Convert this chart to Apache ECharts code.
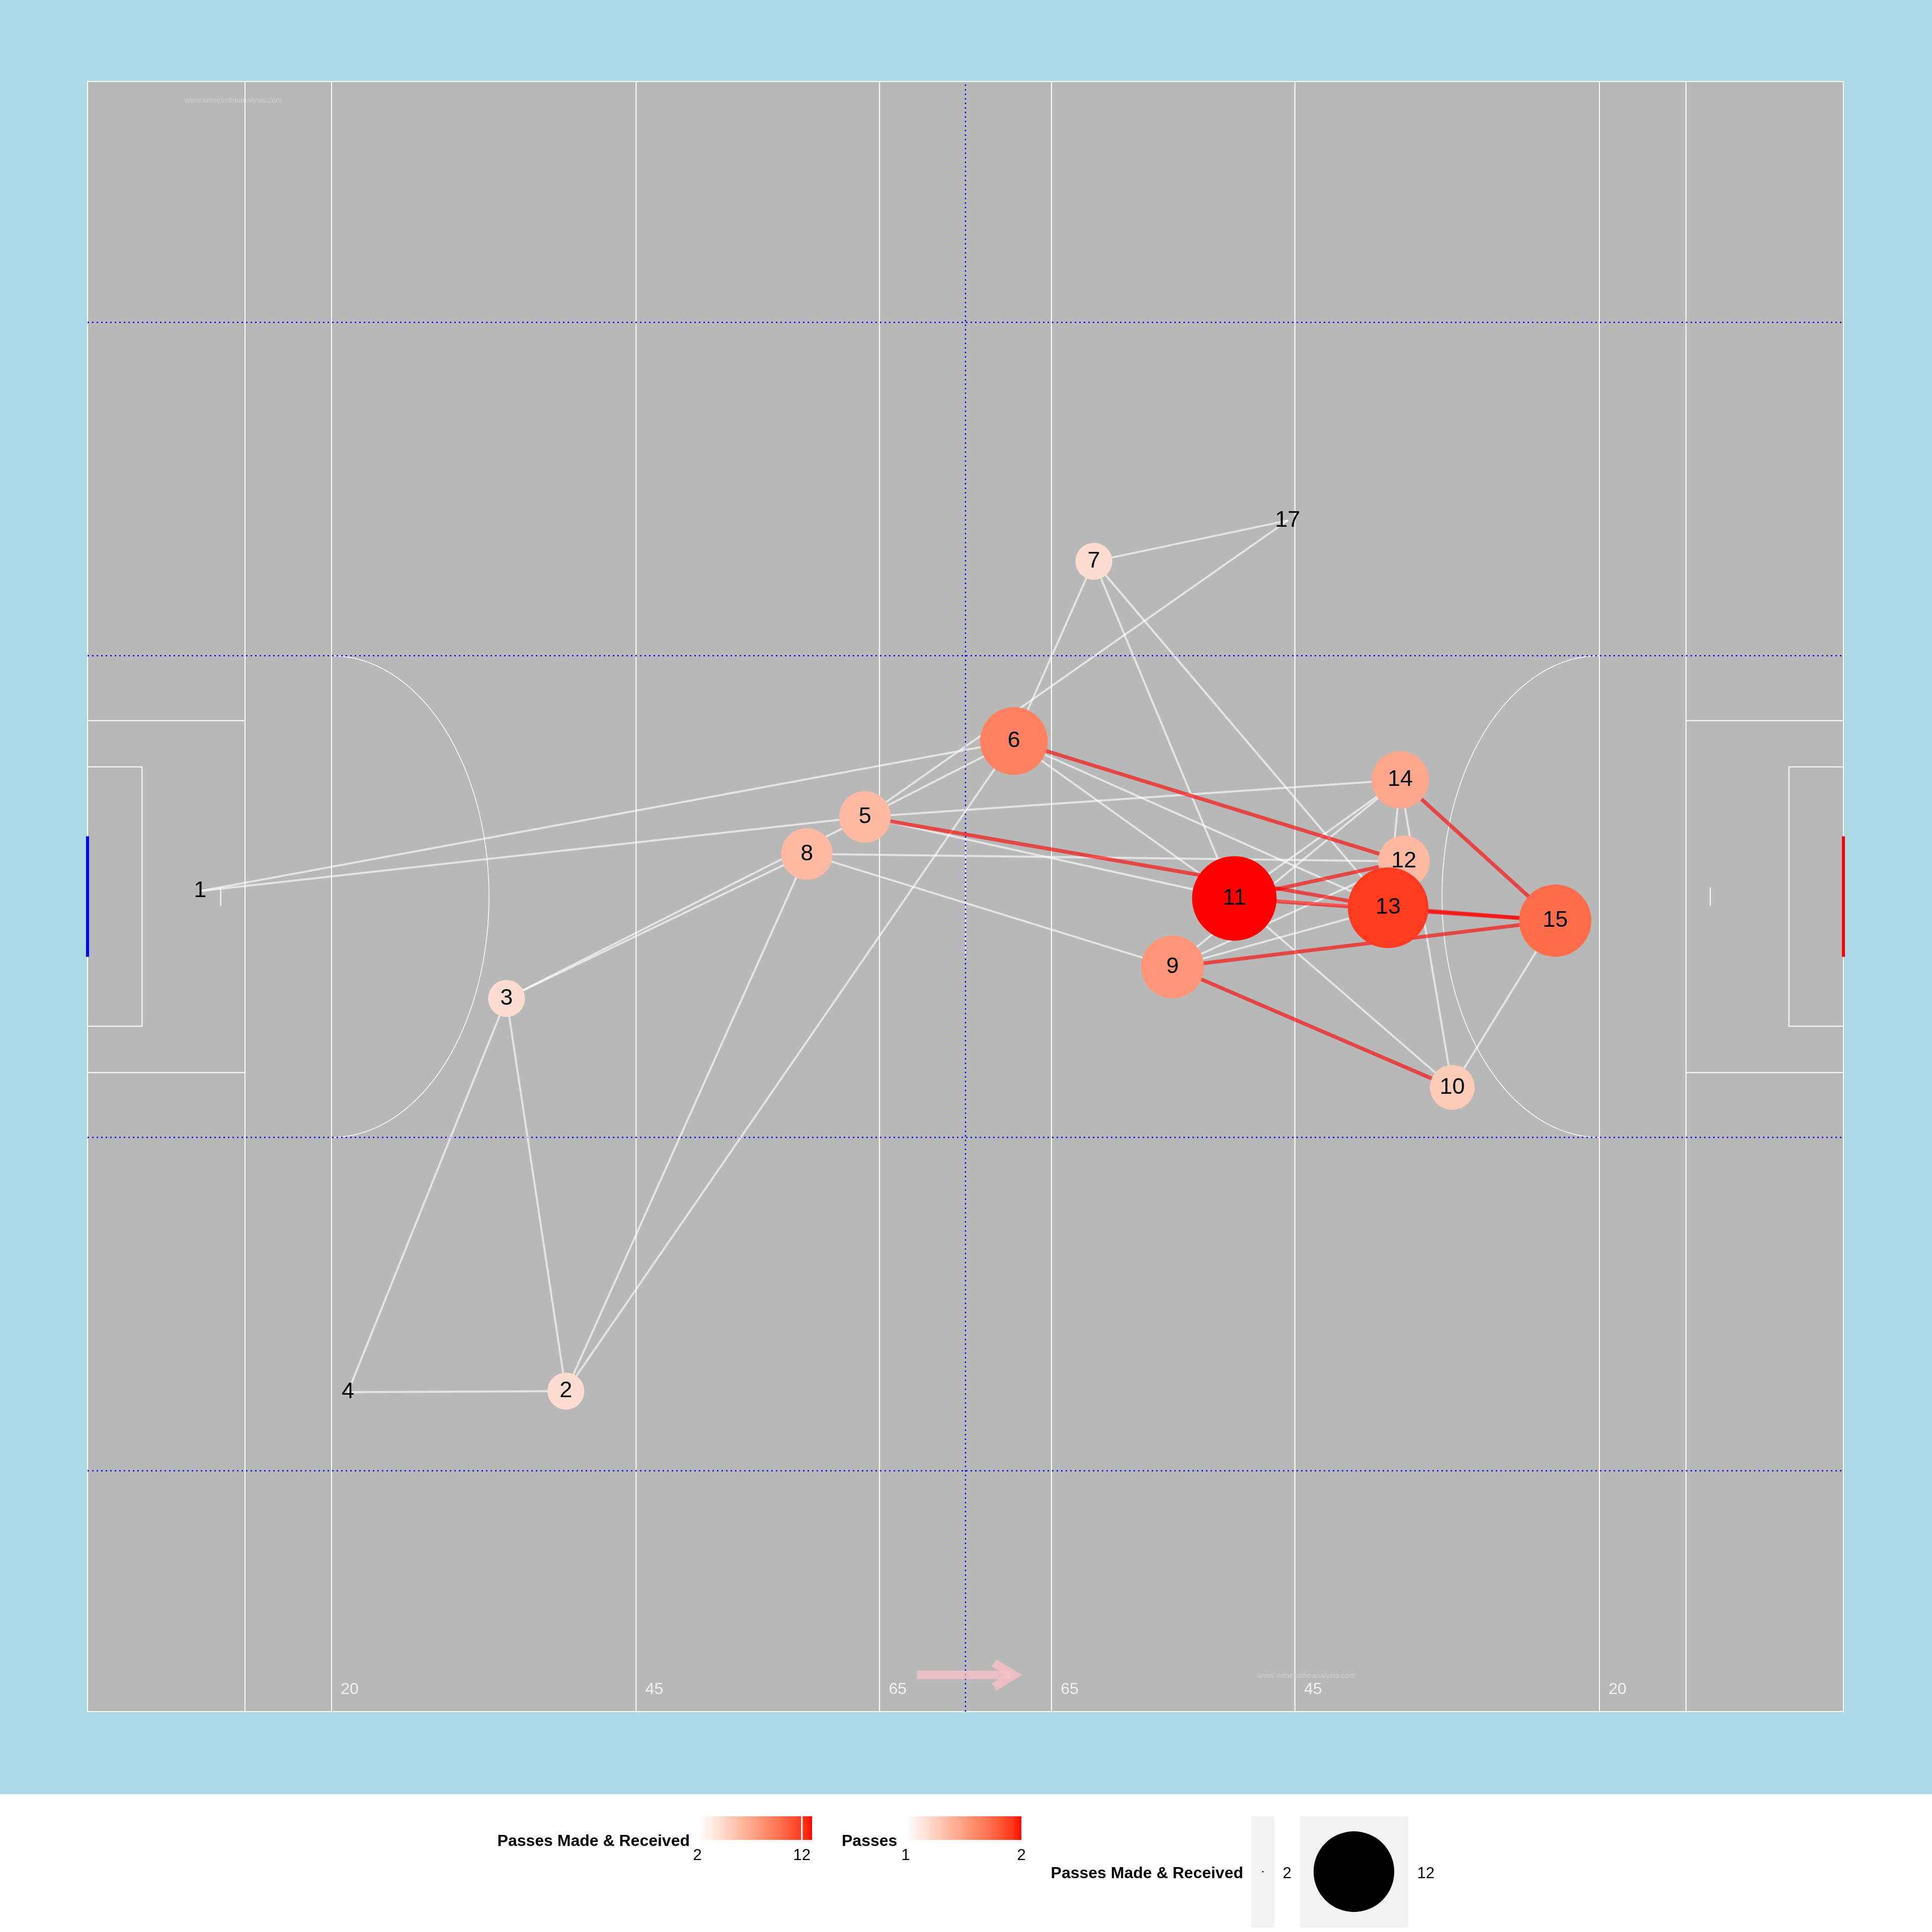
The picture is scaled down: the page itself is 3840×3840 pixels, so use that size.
<!DOCTYPE html>
<html><head><meta charset="utf-8">
<script src="https://cdn.jsdelivr.net/npm/echarts@6/dist/echarts.min.js"></script>
<style>html,body{margin:0;padding:0;background:#fff}#c{width:3840px;height:3840px}</style>
</head><body><div id="c"></div>
<script>
// ---------------- DATA ----------------
const players      = ['1','2','3','4','5','6','7','8','9','10','11','12','13','14','15','17'];
const playerX      = [9.3, 39.5, 34.6, 21.5, 64.2, 76.5, 83.1, 59.4, 89.6, 112.7, 94.7, 108.7, 107.4, 108.4, 121.2, 99.1];
const playerY      = [44.3, 17.3, 38.5, 17.25, 48.3, 52.4, 62.1, 46.3, 40.2, 33.7, 43.9, 45.9, 43.4, 50.3, 42.7, 64.3];
const playerPasses = [2, 4, 4, 2, 6, 9, 4, 6, 8, 5, 13, 6, 12, 7, 10, 2];

const edgeFrom   = ['1','1','2','2','2','2','3','3','3','17','17','7','7','7','5','5','5','6','6','8','8','9','9','9','11','11','14','14','10','11',
                    '5','6','11','11','13','9','9','14'];
const edgeTo     = ['5','6','3','4','8','6','4','8','5','7','5','6','11','13','6','14','11','11','13','12','9','13','14','12','14','10','13','10','15','13',
                    '13','12','12','15','15','15','10','15'];
const edgePasses = [1,1,1,1,1,1,1,1,1,1,1,1,1,1,1,1,1,1,1,1,1,1,1,1,1,1,1,1,1,1,
                    2,2,2,2,2,2,2,2];

const sizeBreaks   = [2, 12];
const passesBreaks = [1, 2];
const zoneLabels   = ['20','45','65','65','45','20'];
const zoneLabelX   = [21.65, 46.8, 66.9, 81.1, 101.2, 126.35];
const watermark    = 'www.witnesstheanalysis.com';

// ---------------- PITCH GEOMETRY ----------------
const L = 145, W = 88, CY = W / 2;
const fullLines = [13, 20.15, 45.3, 65.4, 79.6, 99.7, 124.85, 132];
const dotY = [13, 31, 57, 75];

// ---------------- COLOUR (Lab interpolation white -> red) ----------------
function s2l(c){c/=255;return c<=0.04045?c/12.92:Math.pow((c+0.055)/1.055,2.4);}
function l2s(c){c=c<=0.0031308?12.92*c:1.055*Math.pow(c,1/2.4)-0.055;return Math.round(Math.max(0,Math.min(1,c))*255);}
function rgb2lab(r,g,b){
  r=s2l(r);g=s2l(g);b=s2l(b);
  let X=(0.4124*r+0.3576*g+0.1805*b)/0.95047, Y=0.2126*r+0.7152*g+0.0722*b, Z=(0.0193*r+0.1192*g+0.9505*b)/1.08883;
  const f=t=>t>0.008856?Math.cbrt(t):7.787*t+16/116;
  return [116*f(Y)-16, 500*(f(X)-f(Y)), 200*(f(Y)-f(Z))];
}
function lab2rgb(Lv,a,b){
  const fy=(Lv+16)/116, fx=fy+a/500, fz=fy-b/200;
  const fi=t=>{const t3=t*t*t;return t3>0.008856?t3:(t-16/116)/7.787;};
  const X=fi(fx)*0.95047, Y=fi(fy), Z=fi(fz)*1.08883;
  const r=3.2406*X-1.5372*Y-0.4986*Z, g=-0.9689*X+1.8758*Y+0.0415*Z, bb=0.0557*X-0.2040*Y+1.0570*Z;
  return 'rgb('+l2s(r)+','+l2s(g)+','+l2s(bb)+')';
}
const LAB_LO = rgb2lab(255,255,255), LAB_HI = rgb2lab(255,0,0);
function ramp(t){t=Math.max(0,Math.min(1,t));return lab2rgb(LAB_LO[0]+(LAB_HI[0]-LAB_LO[0])*t,LAB_LO[1]+(LAB_HI[1]-LAB_LO[1])*t,LAB_LO[2]+(LAB_HI[2]-LAB_LO[2])*t);}
const pMin = Math.min(...playerPasses), pMax = Math.max(...playerPasses);
const nodeColor = v => ramp((v-pMin)/(pMax-pMin));
const nodeSize  = v => 2*(1.5 + 82.5*Math.sqrt((v-pMin)/(pMax-pMin)));

// ---------------- BUILD SERIES DATA ----------------
const idx = {}; players.forEach((p,i)=>idx[p]=i);
const nodeData = players.map((p,i)=>({value:[playerX[i],playerY[i],playerPasses[i]], name:p}));
const eMin = Math.min(...edgePasses), eMax = Math.max(...edgePasses);
const edgeData = edgeFrom.map((f,i)=>{
  const a=idx[f], b=idx[edgeTo[i]], t=(edgePasses[i]-eMin)/(eMax-eMin);
  return {coords:[[playerX[a],playerY[a]],[playerX[b],playerY[b]]],
          lineStyle:{color: t>0.5?'#ff0000':'#ffffff', width: 4+3.5*t, opacity:0.62}};
});

const marks = [];
fullLines.forEach(x=>marks.push({coords:[[x,0],[x,W]]}));
[[0,13],[L,L-13]].forEach(([g,e])=>{
  marks.push({coords:[[g,CY-9.5],[e,CY-9.5]]});
  marks.push({coords:[[g,CY+9.5],[e,CY+9.5]]});
});
const sr = (g,d)=>({coords:[[g,CY-7],[g+d,CY-7],[g+d,CY+7],[g,CY+7]]});
marks.push(sr(0,4.5)); marks.push(sr(L,-4.5));
marks.push({coords:[[11,CY-0.5],[11,CY+0.5]]});
marks.push({coords:[[L-11,CY-0.5],[L-11,CY+0.5]]});
marks.push({coords:[[L/2,CY-3.25],[L/2,CY+3.25]]});
const arcs = [];
[[fullLines[1],1],[fullLines[6],-1]].forEach(([cx,dir])=>{
  const pts=[];
  for(let k=0;k<=180;k++){const th=-Math.PI/2+Math.PI*k/180;pts.push([cx+dir*13*Math.cos(th),CY+13*Math.sin(th)]);}
  arcs.push({coords:pts});
});
const dots = dotY.map(y=>({coords:[[0,y],[L,y]]}));
dots.push({coords:[[L/2,0],[L/2,W]]});

const textData = zoneLabels.map((t,i)=>({value:[zoneLabelX[i],1.2], name:t}));

// ---------------- CHART ----------------
const chart = echarts.init(document.getElementById('c'), null, {renderer:'canvas', width:3840, height:3840});
const FONT = 'Liberation Sans, Arial, sans-serif';

function gradStops(n){const s=[];for(let k=0;k<=n;k++)s.push({offset:k/n,color:ramp(k/n)});return s;}
const bar1 = {x:1391, y:3610, w:223, h:47};
const bar2 = {x:1803, y:3610, w:227, h:47};
const tick12 = bar1.x + bar1.w*(sizeBreaks[1]-pMin)/(pMax-pMin);

const graphics = [
  {type:'rect', left:0, top:3566, shape:{width:3840,height:274}, style:{fill:'#ffffff'}, z:-1},
  {type:'text', x:1371, y:3660, style:{text:'Passes Made & Received', font:'bold 32px '+FONT, fill:'#000', textAlign:'right', textVerticalAlign:'middle'}},
  {type:'rect', shape:{x:bar1.x,y:bar1.y,width:bar1.w,height:bar1.h}, style:{fill:new echarts.graphic.LinearGradient(0,0,1,0,gradStops(40))}},
  {type:'line', shape:{x1:tick12,y1:bar1.y,x2:tick12,y2:bar1.y+bar1.h}, style:{stroke:'#fff',lineWidth:3}},
  {type:'text', x:bar1.x-5, y:3688, style:{text:String(sizeBreaks[0]), font:'31px '+FONT, fill:'#000', textAlign:'center', textVerticalAlign:'middle'}},
  {type:'text', x:tick12, y:3688, style:{text:String(sizeBreaks[1]), font:'31px '+FONT, fill:'#000', textAlign:'center', textVerticalAlign:'middle'}},
  {type:'text', x:1673, y:3660, style:{text:'Passes', font:'bold 32px '+FONT, fill:'#000', textAlign:'left', textVerticalAlign:'middle'}},
  {type:'rect', shape:{x:bar2.x,y:bar2.y,width:bar2.w,height:bar2.h}, style:{fill:new echarts.graphic.LinearGradient(0,0,1,0,gradStops(40))}},
  {type:'text', x:bar2.x-3, y:3688, style:{text:String(passesBreaks[0]), font:'31px '+FONT, fill:'#000', textAlign:'center', textVerticalAlign:'middle'}},
  {type:'text', x:bar2.x+bar2.w, y:3688, style:{text:String(passesBreaks[1]), font:'31px '+FONT, fill:'#000', textAlign:'center', textVerticalAlign:'middle'}},
  {type:'text', x:2471, y:3724, style:{text:'Passes Made & Received', font:'bold 32px '+FONT, fill:'#000', textAlign:'right', textVerticalAlign:'middle'}},
  {type:'rect', shape:{x:2487,y:3610,width:46,height:221}, style:{fill:'#f2f2f2'}},
  {type:'circle', shape:{cx:2510,cy:3720,r:nodeSize(sizeBreaks[0])/2}, style:{fill:'#000'}},
  {type:'text', x:2558, y:3724, style:{text:String(sizeBreaks[0]), font:'31px '+FONT, fill:'#000', textAlign:'center', textVerticalAlign:'middle'}},
  {type:'rect', shape:{x:2584,y:3610,width:215,height:221}, style:{fill:'#f2f2f2'}},
  {type:'circle', shape:{cx:2691,cy:3720,r:nodeSize(sizeBreaks[1])/2}, style:{fill:'#000'}},
  {type:'text', x:2834, y:3724, style:{text:String(sizeBreaks[1]), font:'31px '+FONT, fill:'#000', textAlign:'center', textVerticalAlign:'middle'}}
];

chart.setOption({
  animation:false,
  backgroundColor:'#ADD8E6',
  grid:{left:174, top:162, width:3490, height:3240, show:true, backgroundColor:'#B8B8B8', borderColor:'#ffffff', borderWidth:2},
  xAxis:{type:'value', min:0, max:L, show:false},
  yAxis:{type:'value', min:0, max:W, show:false},
  graphic:graphics,
  series:[
    {type:'lines', coordinateSystem:'cartesian2d', polyline:true, z:1, silent:true,
     lineStyle:{color:'#ffffff', width:2, opacity:1}, data:marks},
    {type:'lines', coordinateSystem:'cartesian2d', polyline:true, z:1, silent:true,
     lineStyle:{color:'#ffffff', width:1.5, opacity:1}, data:arcs},
    {type:'lines', coordinateSystem:'cartesian2d', polyline:true, z:1, silent:true,
     lineStyle:{color:'#0000ff', width:2.5, type:[3,6], opacity:1}, data:dots},
    {type:'lines', coordinateSystem:'cartesian2d', z:1, silent:true,
     lineStyle:{width:6, opacity:1}, data:[
       {coords:[[0,CY-3.25],[0,CY+3.25]], lineStyle:{color:'#0000ff'}},
       {coords:[[L,CY-3.25],[L,CY+3.25]], lineStyle:{color:'#ff0000'}}]},
    {type:'lines', coordinateSystem:'cartesian2d', polyline:true, z:1, silent:true,
     lineStyle:{color:'#ffc0cb', width:17, opacity:0.7, cap:'butt', join:'miter'}, data:[
       {coords:[[68.5,1.98],[76.2,1.98]]},
       {coords:[[74.85,2.63],[76.5,1.98],[74.85,1.33]]}]},
    {type:'scatter', z:1, silent:true, symbolSize:0, data:textData,
     label:{show:true, position:'inside', formatter:p=>p.name, color:'#ffffff', fontSize:32, fontFamily:FONT}},
    {type:'scatter', z:1, silent:true, symbolSize:0,
     data:[{value:[12.05,86.96],name:watermark},{value:[100.67,1.93],name:watermark}],
     label:{show:true, position:'inside', formatter:p=>p.name, color:'#d3d3d3', fontSize:15, fontFamily:FONT}},
    {type:'lines', coordinateSystem:'cartesian2d', z:2, silent:true, data:edgeData},
    {type:'scatter', z:3, silent:true, data:nodeData,
     symbolSize:v=>nodeSize(v[2]),
     itemStyle:{color:p=>nodeColor(p.value[2]), opacity:1},
     label:{show:true, position:'inside', formatter:p=>p.name, color:'#000', fontSize:45, fontFamily:FONT}}
  ]
});
</script></body></html>
